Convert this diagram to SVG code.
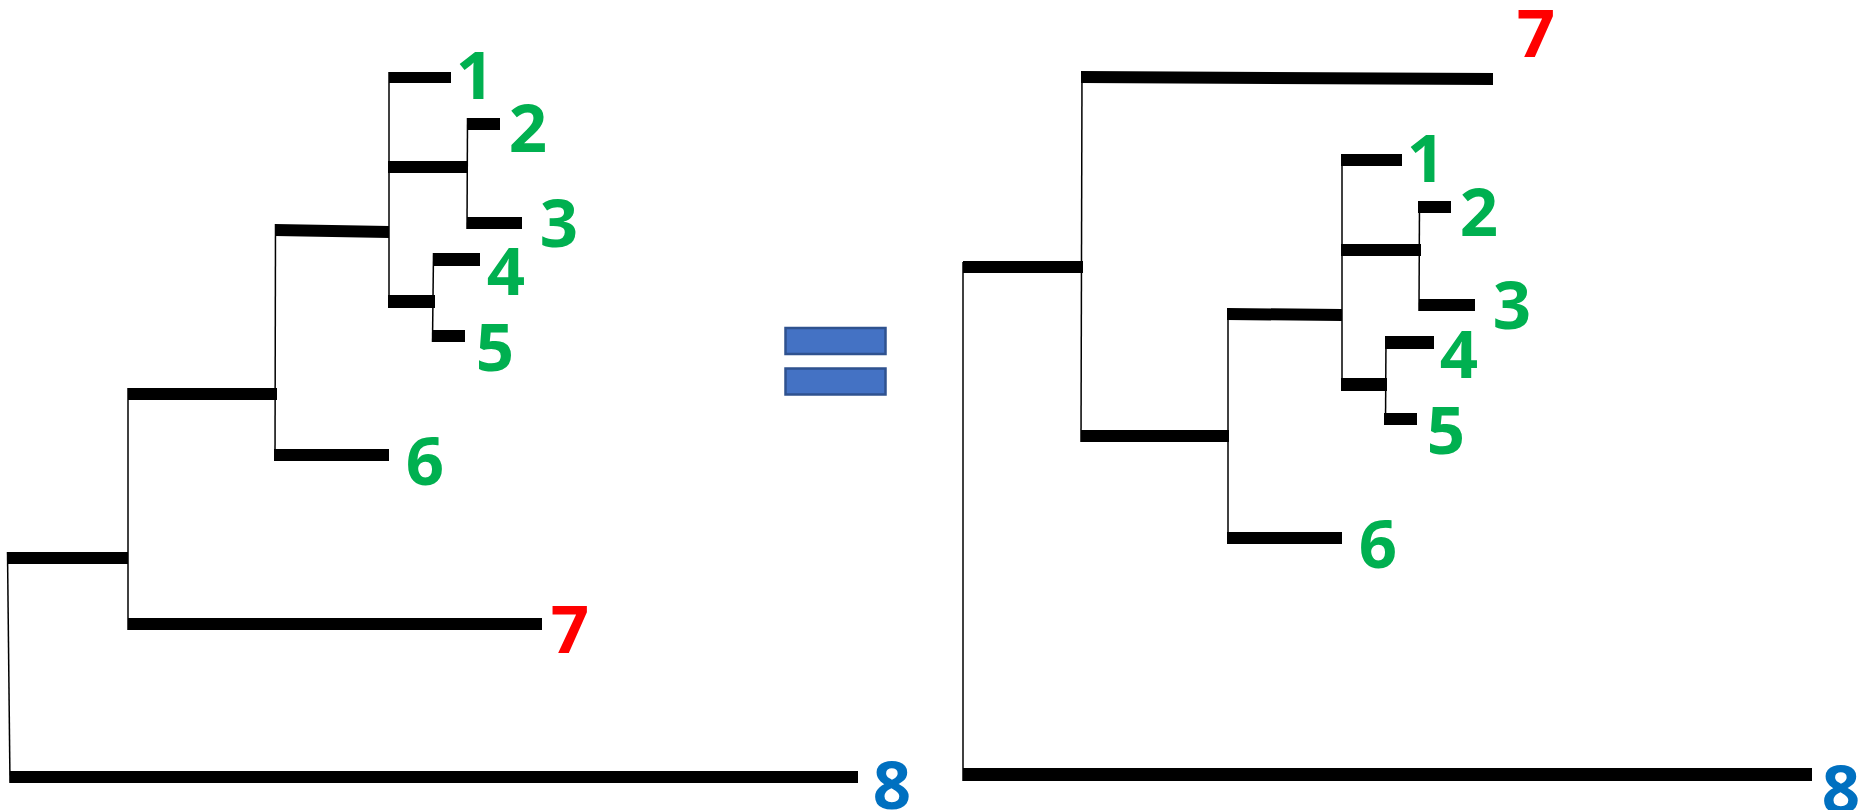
<svg xmlns="http://www.w3.org/2000/svg" width="1860" height="810" viewBox="0 0 1860 810">
  <style>
    .bar { fill: #000; }
    .stem { stroke: #000; stroke-width: 1.5; fill: none; }
    .lbl { font-family: "Open Sans", "Noto Sans", "Liberation Sans", sans-serif; font-weight: 700; font-size: 67px; text-anchor: middle; }
    .g { fill: #00B050; }
    .r { fill: #FF0000; }
    .b { fill: #0070C0; }
    .eq { fill: #4472C4; stroke: #2F528F; stroke-width: 2.5; }
  </style>
  <rect width="1860" height="810" fill="#fff"/>

  <!-- Tree A: ((((1,(2,3)),(4,5)),6),7),8 -->
  <g id="treeA">
    <g id="treeA-connectors">
      <line class="stem" x1="7.5" y1="552" x2="10" y2="783"/>
      <rect class="bar" x="7" y="552" width="121" height="12"/>
      <line class="stem" x1="128" y1="388" x2="128" y2="630"/>
      <rect class="bar" x="128" y="388" width="149" height="12"/>
      <line class="stem" x1="275.5" y1="224" x2="275" y2="461"/>
      <polygon class="bar" points="275,224 389,226 389,238 275,236"/>
      <line class="stem" x1="389" y1="72" x2="389" y2="308"/>
      <rect class="bar" x="388" y="161" width="80" height="12"/>
      <line class="stem" x1="467.5" y1="118" x2="467" y2="229"/>
      <rect class="bar" x="388" y="295" width="47" height="13"/>
      <line class="stem" x1="433.5" y1="253" x2="432.5" y2="342"/>
    </g>
    <g id="treeA-leaf1"><rect class="bar" x="389" y="72" width="62" height="11"/><text class="lbl g" x="475" y="99">1</text></g>
    <g id="treeA-leaf2"><rect class="bar" x="467" y="118" width="33" height="12"/><text class="lbl g" x="528" y="152">2</text></g>
    <g id="treeA-leaf3"><rect class="bar" x="467" y="217" width="55" height="12"/><text class="lbl g" x="559" y="247">3</text></g>
    <g id="treeA-leaf4"><rect class="bar" x="433" y="253" width="47" height="13"/><text class="lbl g" x="506" y="295">4</text></g>
    <g id="treeA-leaf5"><rect class="bar" x="432" y="330" width="33" height="12"/><text class="lbl g" x="495" y="371">5</text></g>
    <g id="treeA-leaf6"><rect class="bar" x="274" y="449" width="115" height="12"/><text class="lbl g" x="425" y="485">6</text></g>
    <g id="treeA-leaf7"><rect class="bar" x="128" y="618" width="414" height="12"/><text class="lbl r" x="570" y="653">7</text></g>
    <g id="treeA-leaf8"><rect class="bar" x="10" y="771" width="848" height="12"/><text class="lbl b" x="892" y="809">8</text></g>
  </g>

  <!-- equals sign -->
  <g id="equals">
    <rect class="eq" x="785.5" y="328" width="100" height="26"/>
    <rect class="eq" x="785.5" y="368.5" width="100" height="26"/>
  </g>

  <!-- Tree B: same topology, drawn with 7 on top -->
  <g id="treeB">
    <g id="treeB-connectors">
      <line class="stem" x1="963" y1="262" x2="963" y2="781"/>
      <rect class="bar" x="963" y="261" width="120" height="12"/>
      <line class="stem" x1="1082" y1="72" x2="1081" y2="442"/>
      <rect class="bar" x="1081" y="430" width="148" height="12"/>
      <line class="stem" x1="1228" y1="308" x2="1228" y2="544"/>
      <polygon class="bar" points="1227,308 1342,309 1342,321 1227,320"/>
      <line class="stem" x1="1342" y1="155" x2="1342" y2="391"/>
      <rect class="bar" x="1341" y="244" width="80" height="12"/>
      <line class="stem" x1="1419.5" y1="201" x2="1419" y2="311"/>
      <rect class="bar" x="1341" y="378" width="46" height="13"/>
      <line class="stem" x1="1386" y1="336" x2="1385.5" y2="425"/>
    </g>
    <g id="treeB-leaf1"><rect class="bar" x="1341" y="154" width="61" height="12"/><text class="lbl g" x="1426" y="182">1</text></g>
    <g id="treeB-leaf2"><rect class="bar" x="1418" y="201" width="33" height="12"/><text class="lbl g" x="1479" y="236">2</text></g>
    <g id="treeB-leaf3"><rect class="bar" x="1419" y="299" width="56" height="12"/><text class="lbl g" x="1512" y="329">3</text></g>
    <g id="treeB-leaf4"><rect class="bar" x="1385" y="336" width="49" height="13"/><text class="lbl g" x="1459" y="378">4</text></g>
    <g id="treeB-leaf5"><rect class="bar" x="1384" y="413" width="33" height="12"/><text class="lbl g" x="1446" y="454">5</text></g>
    <g id="treeB-leaf6"><rect class="bar" x="1227" y="532" width="115" height="12"/><text class="lbl g" x="1378" y="568">6</text></g>
    <g id="treeB-leaf7"><polygon class="bar" points="1081,71 1493,73 1493,85 1081,83"/><text class="lbl r" x="1536" y="57">7</text></g>
    <g id="treeB-leaf8"><rect class="bar" x="963" y="768" width="849" height="13"/><text class="lbl b" x="1841" y="813">8</text></g>
  </g>
</svg>
